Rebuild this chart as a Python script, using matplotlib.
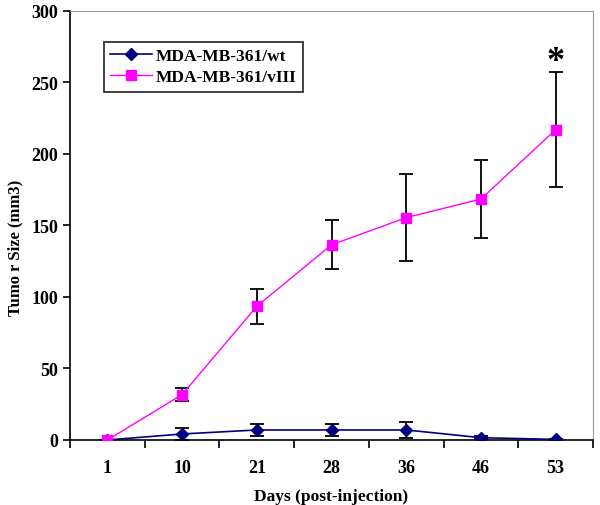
import matplotlib.pyplot as plt
import numpy as np

days = ["1", "10", "21", "28", "36", "46", "53"]
wt_mean = [0, 4.2, 7, 7, 7, 1.6, 0.4]
wt_err = [0, 4.5, 4.5, 4.5, 5.5, 1, 0.5]
viii_mean = [0, 31.7, 93.5, 136.5, 155.5, 168.5, 217]
viii_err = [0, 4.7, 12.3, 17, 30.5, 27, 40]

plt.rcParams['font.family'] = ['Liberation Serif', 'DejaVu Serif']
plt.rcParams['font.weight'] = 'bold'

fig = plt.figure(figsize=(6, 5.06), dpi=100)
ax = fig.add_axes([0.1167, 0.1285, 0.8717, 0.8478])

x = np.arange(len(days))
# error bars first, lines + markers on top
ax.errorbar(x, wt_mean, yerr=wt_err, fmt='none', ecolor='black',
            elinewidth=1.3, capsize=5, capthick=1.3, zorder=2)
ax.errorbar(x, viii_mean, yerr=viii_err, fmt='none', ecolor='black',
            elinewidth=1.3, capsize=5, capthick=1.3, zorder=2)
ax.plot(x, wt_mean, color='#000080', marker='D', markersize=6, lw=1.2,
        label='MDA-MB-361/wt', zorder=3)
ax.plot(x, viii_mean, color='#FF00FF', marker='s', markersize=6.5, lw=1,
        label='MDA-MB-361/vIII', zorder=4)

ax.text(x[-1], 253, '*', ha='center', va='bottom', fontsize=26, fontweight='bold')

ax.set_xlim(-0.5, len(days) - 0.5)
ax.set_ylim(0, 300)
ax.set_yticks(range(0, 301, 50))
ax.set_xticks(x)
ax.set_xticklabels(days)
ax.set_xticks(np.arange(-0.5, len(days), 1), minor=True)
ax.tick_params(axis='x', which='major', length=0, pad=14, labelsize=13)
ax.tick_params(axis='x', which='minor', length=6, width=1.2, direction='out')
ax.tick_params(axis='y', length=5, width=1.2, direction='out', labelsize=13)
for side in ['top', 'right']:
    ax.spines[side].set_color('#9a9a9a')
for side in ['left', 'bottom']:
    ax.spines[side].set_linewidth(1.2)

ax.set_xlabel('Days (post-injection)', fontsize=12.5, fontweight='bold', labelpad=8)
ax.set_ylabel('Tumo r Size (mm3)', fontsize=12, fontweight='bold')
ax.yaxis.set_label_coords(-0.09, 0.45)

leg = ax.legend(loc='upper left', bbox_to_anchor=(0.065, 0.928), borderaxespad=0,
                fancybox=False, edgecolor='black', handlelength=2.4,
                handletextpad=0.25, labelspacing=0.3, borderpad=0.35,
                prop={'weight': 'bold', 'size': 12.5})
leg.get_frame().set_linewidth(1.3)

fig.savefig('out.png', dpi=100)
